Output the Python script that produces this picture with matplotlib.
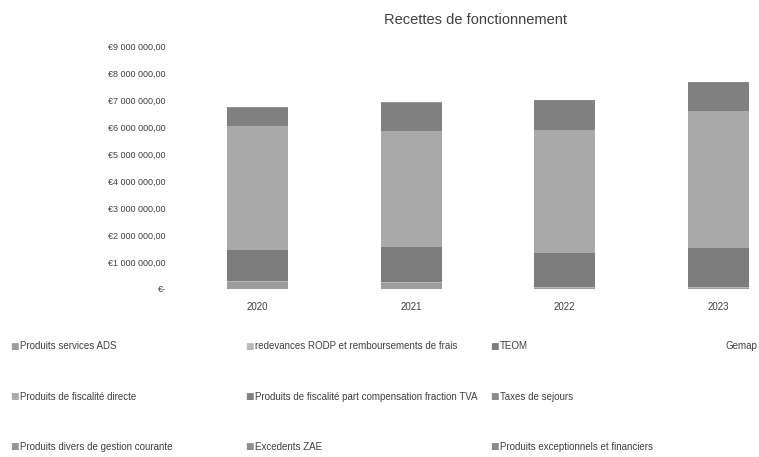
import matplotlib
matplotlib.use('Agg')
import matplotlib.pyplot as plt
from matplotlib.ticker import FuncFormatter, MultipleLocator
import numpy as np

years = ['2020', '2021', '2022', '2023']

# series in stacking order (bottom -> top), values in euros
ads = [250000, 220000, 50000, 50000]
redevances = [40000, 50000, 30000, 30000]
teom = [1150000, 1300000, 1240000, 1440000]
gemap = [0, 0, 0, 0]
fisc_directe = [4610000, 4300000, 4570000, 5060000]
fisc_tva = [650000, 1010000, 1060000, 1050000]
taxes_sejours = [20000, 20000, 20000, 20000]
divers = [10000, 10000, 10000, 10000]
zae = [0, 0, 0, 0]
exceptionnels = [10000, 20000, 10000, 20000]

labels = ['Produits services ADS', 'redevances RODP et remboursements de frais', 'TEOM', 'Gemap',
          'Produits de fiscalité directe', 'Produits de fiscalité part compensation fraction TVA',
          'Taxes de sejours', 'Produits divers de gestion courante', 'Excedents ZAE',
          'Produits exceptionnels et financiers']
series = [ads, redevances, teom, gemap, fisc_directe, fisc_tva, taxes_sejours, divers, zae, exceptionnels]
colors = ['#9c9c9c', '#b8b8b8', '#7c7c7c', '#ffffff', '#a9a9a9', '#808080',
          '#8a8a8a', '#959595', '#8f8f8f', '#888888']

font = ['Liberation Sans', 'DejaVu Sans']

fig = plt.figure(figsize=(7.59, 4.57), dpi=100)
ax = fig.add_axes([181 / 759, 168 / 457, 578 / 759, 243 / 457])

x = np.arange(len(years))
bottom = np.zeros(len(years))
for vals, lab, c in zip(series, labels, colors):
    ax.bar(x, vals, 0.4, bottom=bottom, color=c, label=lab, linewidth=0)
    bottom += np.array(vals)

ax.set_xlim(-0.5, -0.5 + 578 / 153.5)
ax.set_ylim(0, 9000000)
ax.yaxis.set_major_locator(MultipleLocator(1000000))


def euro(v, pos):
    if v == 0:
        return '€-'
    return '€' + f'{v:,.2f}'.replace(',', ' ').replace('.', ',')


ax.yaxis.set_major_formatter(FuncFormatter(euro))
ax.set_xticks(x)
ax.set_xticklabels(years)
for s in ax.spines.values():
    s.set_visible(False)
ax.tick_params(length=0, colors='#404040', labelsize=6.5)
ax.tick_params(axis='x', labelsize=7)
ax.tick_params(axis='y', pad=11)
ax.tick_params(axis='x', pad=9)
for t in ax.get_xticklabels() + ax.get_yticklabels():
    t.set_family(font)

fig.text(475 / 759, 1 - 20 / 457, 'Recettes de fonctionnement', ha='center', va='center',
         fontsize=10.5, color='#404040', family=font)

# legend laid out like the original: 4 columns, 3 rows
col_x = [10, 245, 490, 712]
row_y = [346, 397, 447]
slots = [(0, 0), (1, 0), (2, 0), (3, 0), (0, 1), (1, 1), (2, 1), (0, 2), (1, 2), (2, 2)]
for (ci, ri), lab, c in zip(slots, labels, colors):
    xx = col_x[ci] / 759
    yy = 1 - row_y[ri] / 457
    fig.text(xx, yy, '■', color=c, fontsize=6.5, va='center', ha='left', family='DejaVu Sans')
    if ci == 3:
        fig.text(757 / 759, yy, lab, color='#404040', fontsize=7, va='center', ha='right', family=font)
    else:
        fig.text(xx + 10 / 759, yy, lab, color='#404040', fontsize=7, va='center', ha='left', family=font)

fig.savefig('out.png', dpi=100)
